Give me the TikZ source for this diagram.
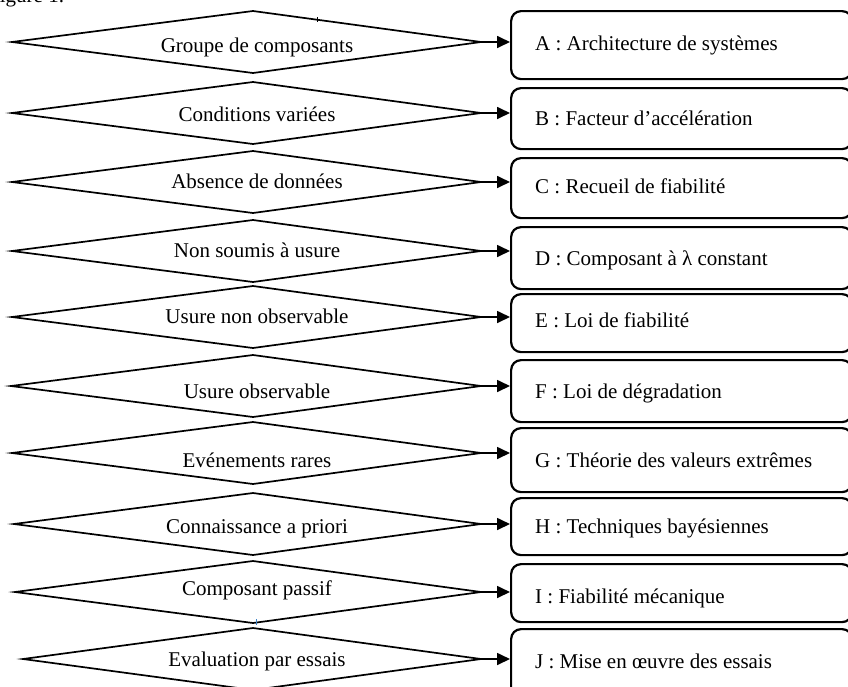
\documentclass[tikz,border=0pt]{standalone}
\usepackage{fontspec}
\setmainfont{Liberation Serif}
\usetikzlibrary{arrows.meta}
\begin{document}
\begin{tikzpicture}[x=1pt,y=-1pt,
  dia/.style={draw=black,line width=1.7pt,line join=miter},
  lab/.style={anchor=base,inner sep=0pt,font=\fontsize{21}{25}\selectfont},
  boxlab/.style={anchor=base west,inner sep=0pt,font=\fontsize{21}{25}\selectfont},
  rbox/.style={draw=black,line width=2.2pt,rounded corners=10pt,inner sep=0pt,anchor=north west,minimum width=341pt},
  conn/.style={line width=1.7pt,-{Triangle[length=13pt,width=12pt]}}
]
\useasboundingbox (0,0) rectangle (848,686);
\fill[white] (0,0) rectangle (848,686);
\node[anchor=base west,inner sep=0pt,font=\fontsize{21}{25}\selectfont] (fig) at (-12,2) {Figure 1.};
\foreach \i/\y/\lx/\tb/\bt/\bb/\bl/\dtext/\btext in {
1/42/12/52/10/78/50/Groupe de composants/A : Architecture de systèmes,
2/113/12/121/87/148/125/Conditions variées/B : Facteur d’accélération,
3/182/12/188/157/217/193/Absence de données/C : Recueil de fiabilité,
4/251/12/257/226/288/265/Non soumis à usure/D : Composant à λ constant,
5/317/12/323/293/351/327/Usure non observable/E : Loi de fiabilité,
6/386/11/398/359/421/398/Usure observable/F : Loi de dégradation,
7/453/12/467/427/491/467/Evénements rares/G : Théorie des valeurs extrêmes,
8/524/14/533/497/554/533/Connaissance a priori/H : Techniques bayésiennes,
9/592/15/595/563/621/603/Composant passif/I : Fiabilité mécanique,
10/659/23/666/628/700/668/Evaluation par essais/J : Mise en œuvre des essais}{
  \draw[dia] (\lx,\y) -- (253,\y-31) -- (481,\y) -- (253,\y+31) -- cycle;
  \coordinate (r\i) at (481,\y);
  \node[lab] (d\i) at (257,\tb) {\dtext};
  \pgfmathsetmacro\hh{\bb-\bt}
  \node[rbox,minimum height=\hh pt] (b\i) at (510,\bt) {};
  \node[boxlab] (t\i) at (535,\bl) {\btext};
  \draw[conn] (r\i) -- (r\i -| b\i.west);
}
\draw[line width=1pt] (317,17) -- (317,22);
\draw[color={rgb,255:red,60;green,130;blue,200},line width=1pt] (256,619) -- (256,625);
\end{tikzpicture}
\end{document}
